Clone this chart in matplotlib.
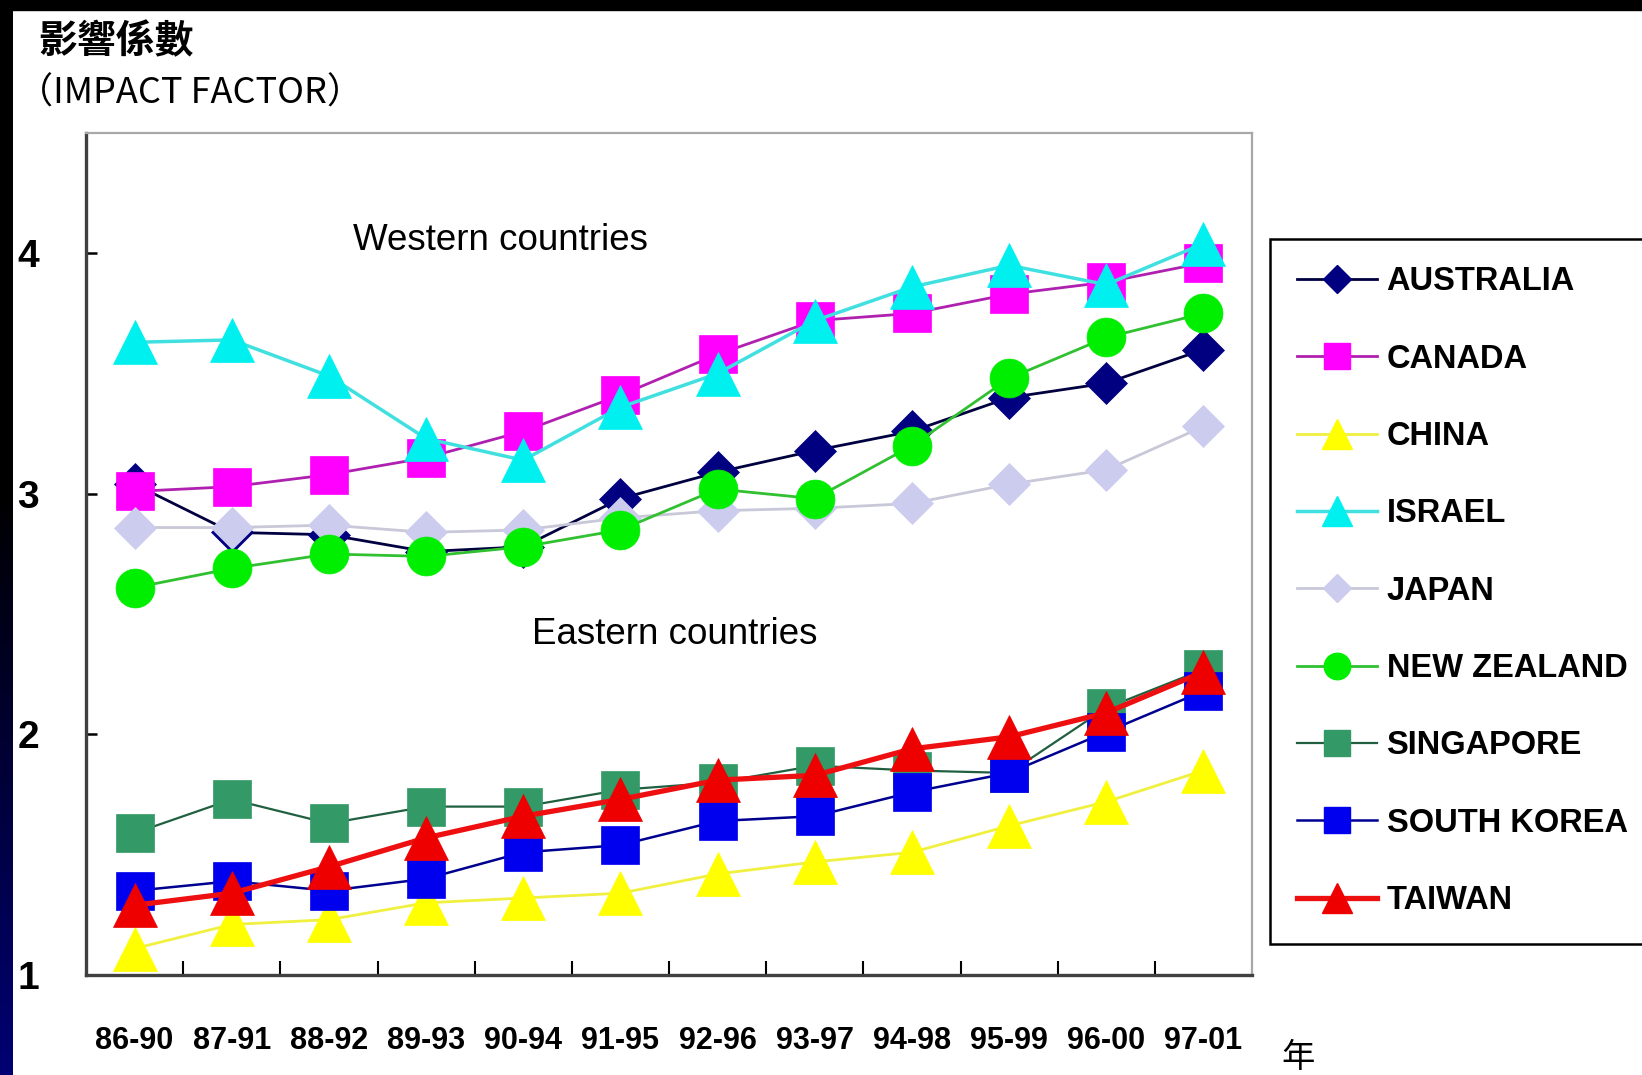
import numpy as np
import matplotlib
matplotlib.use("Agg")
import matplotlib.pyplot as plt
from matplotlib.lines import Line2D
from matplotlib.patches import Rectangle

# Impact factor by 5-year window
periods = ["86-90", "87-91", "88-92", "89-93", "90-94", "91-95",
           "92-96", "93-97", "94-98", "95-99", "96-00", "97-01"]
australia = [3.04, 2.84, 2.83, 2.76, 2.78, 2.98, 3.09, 3.18, 3.26, 3.40, 3.46, 3.60]
canada = [3.01, 3.03, 3.08, 3.15, 3.26, 3.41, 3.58, 3.72, 3.75, 3.83, 3.88, 3.96]
china = [1.11, 1.21, 1.23, 1.30, 1.32, 1.34, 1.42, 1.47, 1.51, 1.62, 1.72, 1.85]
israel = [3.63, 3.64, 3.49, 3.23, 3.14, 3.36, 3.50, 3.72, 3.86, 3.95, 3.87, 4.04]
japan = [2.86, 2.86, 2.87, 2.84, 2.85, 2.90, 2.93, 2.94, 2.96, 3.04, 3.10, 3.28]
new_zealand = [2.61, 2.69, 2.75, 2.74, 2.78, 2.85, 3.02, 2.98, 3.20, 3.48, 3.65, 3.75]
singapore = [1.59, 1.73, 1.63, 1.70, 1.70, 1.77, 1.80, 1.87, 1.85, 1.84, 2.11, 2.27]
south_korea = [1.35, 1.39, 1.35, 1.40, 1.51, 1.54, 1.64, 1.66, 1.76, 1.84, 2.01, 2.18]
taiwan = [1.29, 1.34, 1.45, 1.57, 1.66, 1.73, 1.81, 1.83, 1.94, 1.99, 2.09, 2.26]

names = ["AUSTRALIA", "CANADA", "CHINA", "ISRAEL", "JAPAN",
         "NEW ZEALAND", "SINGAPORE", "SOUTH KOREA", "TAIWAN"]

latin = "Liberation Sans"
cjk = "Noto Sans CJK TC"

# (values, marker, marker colour, line colour, line width, marker size)
styles = [
    (australia, "D", "#000080", "#000040", 2.0, 21),
    (canada, "s", "#ff00ff", "#b020b0", 2.0, 28),
    (china, "^", "#ffff00", "#f0f040", 2.0, 32),
    (israel, "^", "#00f0f0", "#40e0e0", 2.5, 32),
    (japan, "D", "#ccccee", "#c8c8d8", 2.0, 21),
    (new_zealand, "o", "#00ee00", "#30c030", 2.0, 28),
    (singapore, "s", "#339966", "#206040", 1.6, 28),
    (south_korea, "s", "#0000ee", "#000090", 1.8, 28),
    (taiwan, "^", "#ee0000", "#ee1010", 3.8, 32),
]

W, H = 1642, 1075
fig = plt.figure(figsize=(W / 100, H / 100), dpi=100, facecolor="white")
ax = fig.add_axes([86 / W, 1 - 975 / H, (1252 - 86) / W, (975 - 133) / H])

x = np.arange(len(periods))
handles = []
for (vals, mk, mc, lc, lw, ms), name in zip(styles, names):
    ax.plot(x, vals, color=lc, lw=lw, marker=mk, ms=ms, mfc=mc, mec=mc, mew=0.5)
    handles.append(Line2D([], [], color=lc, lw=lw, marker=mk, ms=ms * 0.68,
                          mfc=mc, mec=mc, label=name))

ax.set_xlim(-0.5, 11.5)
ax.set_ylim(1, 4.5)

ax.set_xticks(x)
ax.set_xticklabels(periods, fontfamily=latin, fontweight="bold", fontsize=22)
ax.tick_params(axis="x", which="major", length=0, pad=37)
ax.set_xticks(x[:-1] + 0.5, minor=True)
ax.tick_params(axis="x", which="minor", direction="in", length=10, width=1.5, color="black")

ax.set_yticks([1, 2, 3, 4])
ax.set_yticklabels(["1", "2", "3", "4"], fontfamily=latin,
                   fontweight="bold", fontsize=28)
ax.tick_params(axis="y", direction="in", length=8, width=1.8, color="black", pad=34)

for side in ["left", "bottom"]:
    ax.spines[side].set_color("#404040")
    ax.spines[side].set_linewidth(2.4)
for side in ["top", "right"]:
    ax.spines[side].set_color("#a8a8a8")
    ax.spines[side].set_linewidth(1.6)

fig.text(500 / W, 1 - 241 / H, "Western countries", fontfamily=latin,
         fontsize=26.5, ha="center", va="center")
fig.text(675 / W, 1 - 635 / H, "Eastern countries", fontfamily=latin,
         fontsize=26.5, ha="center", va="center")

fig.text(38 / W, 1 - 42 / H, "影響係數", fontfamily=cjk, fontsize=28,
         fontweight="bold", ha="left", va="center")
fig.text(17 / W, 1 - 94 / H, "（IMPACT FACTOR）", fontfamily=[cjk],
         fontsize=26, ha="left", va="center")
fig.text(1298 / W, 1 - 1057 / H, "年", fontfamily=cjk, fontsize=24,
         ha="center", va="center")

leg = fig.legend(handles=handles, loc="upper left",
                 bbox_to_anchor=(1270 / W, 1 - 239 / H), borderaxespad=0,
                 prop={"family": latin, "weight": "bold", "size": 23.5},
                 handlelength=2.43, handletextpad=0.3, labelspacing=1.42,
                 borderpad=0.84, fancybox=False, framealpha=1)
leg.get_frame().set_edgecolor("black")
leg.get_frame().set_linewidth(1.8)

# dark slide border along top and left edges
fig.patches.append(Rectangle((0, 1 - 10 / H), 1, 10 / H, transform=fig.transFigure,
                             color="black", zorder=10))
strip = fig.add_axes([0, 0, 12 / W, 1 - 10 / H])
grad = np.linspace(0, 1, 256)
shade = np.clip((grad - 0.45) / 0.55, 0, 1)
img = np.zeros((256, 1, 3))
img[:, 0, 2] = shade * 0.45
strip.imshow(img, aspect="auto", origin="upper", extent=(0, 1, 0, 1))
strip.axis("off")

fig.savefig("out.png", dpi=100, facecolor="white")
